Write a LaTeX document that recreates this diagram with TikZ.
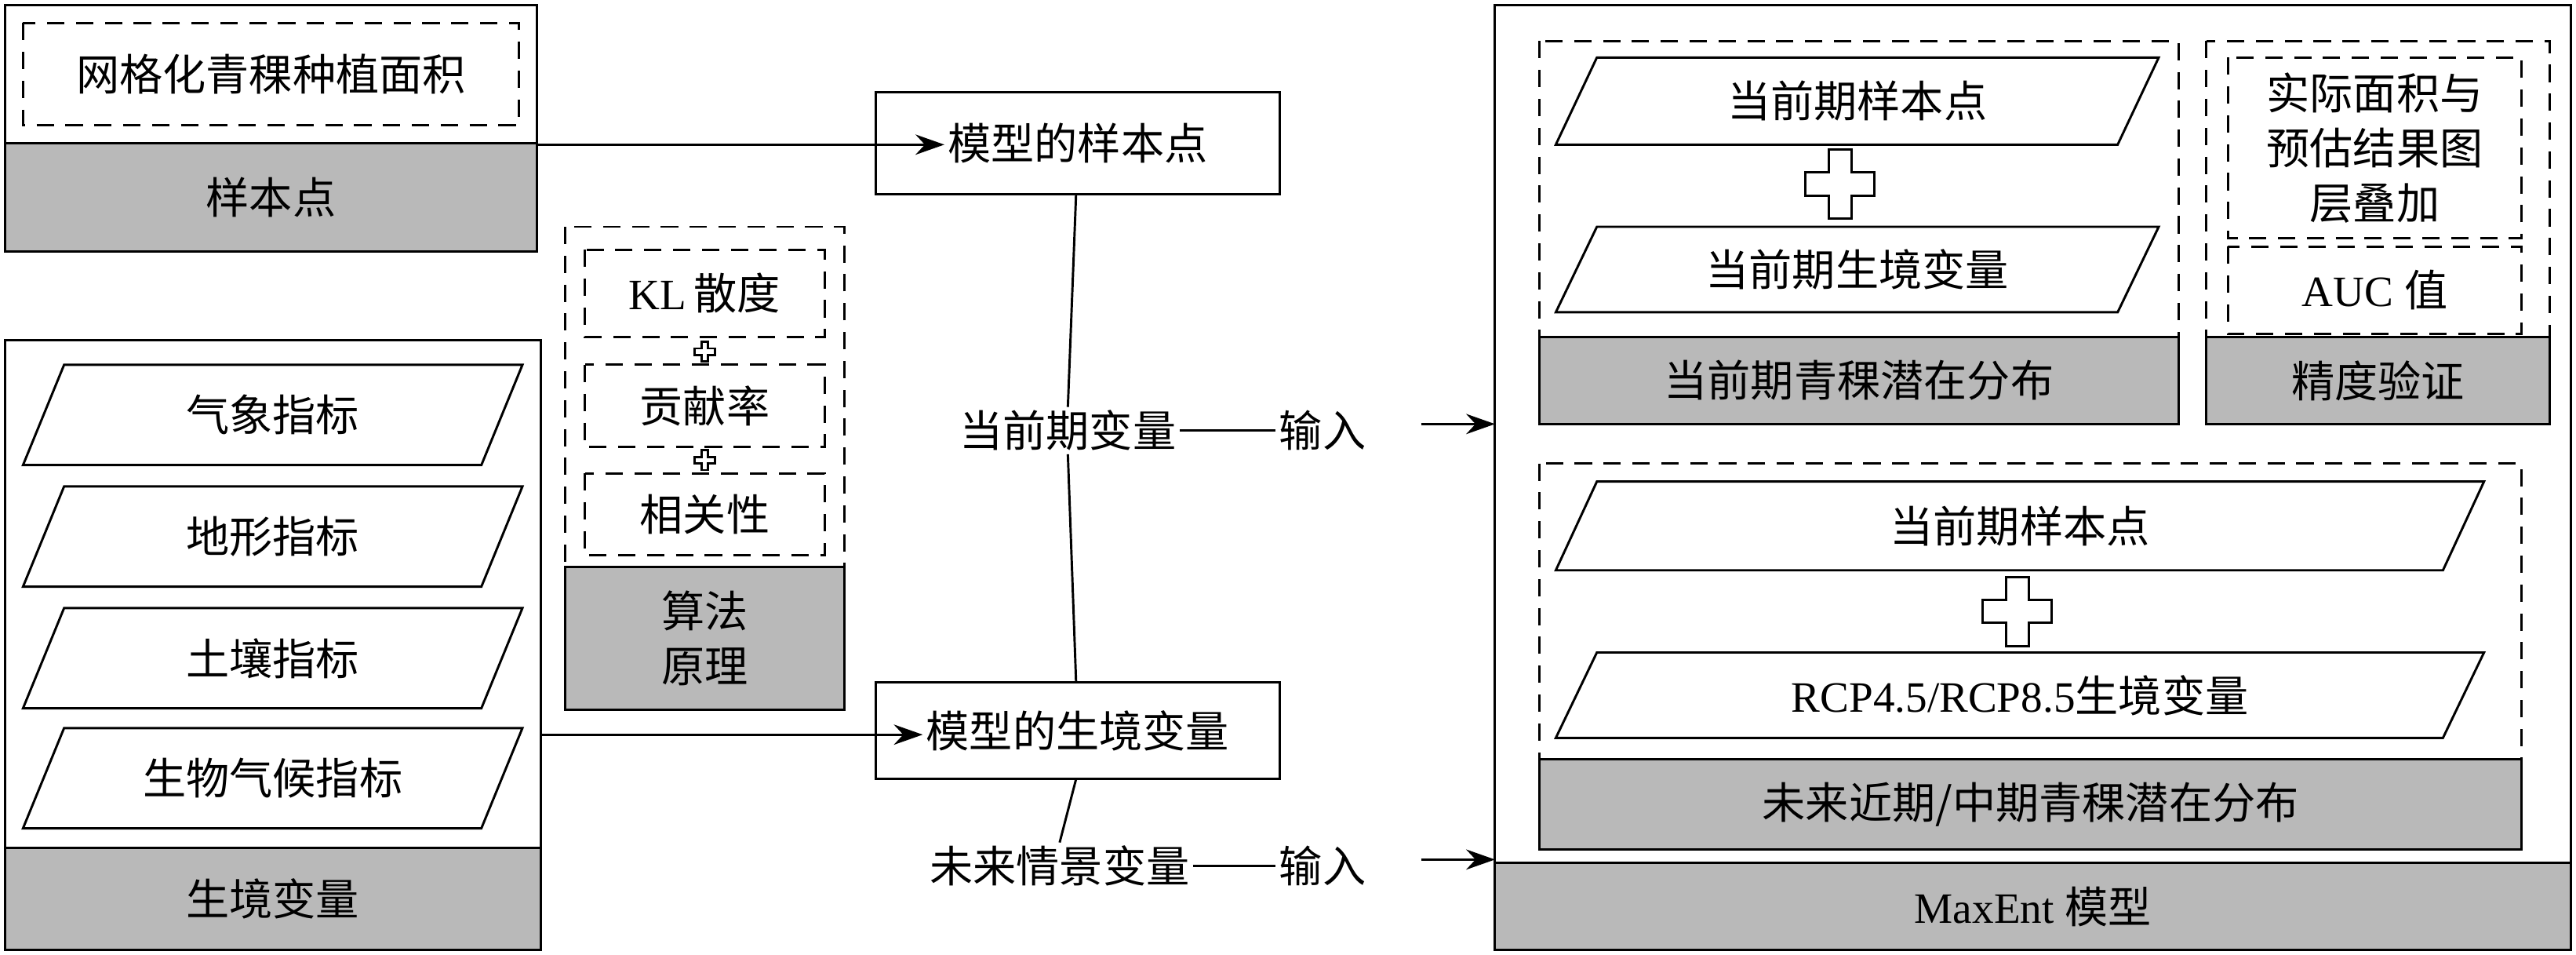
\documentclass[tikz,border=0pt]{standalone}
\usepackage{fontspec}
\setmainfont{Liberation Serif}
\newfontfamily\cjk{Noto Sans CJK SC}
\usetikzlibrary{calc,arrows.meta}

\tikzset{
  frame/.style={draw, thick},
  dframe/.style={draw, thick, dashed, dash pattern=on 6pt off 4pt},
  band/.style={draw, thick, fill=gray!55},
  lbl/.style={font=\fontsize{15}{19}\selectfont\cjk, align=center, inner sep=1pt},
  arr/.style={thick, -{Stealth[length=10pt,width=7pt]}}
}
% box with centred text
\newcommand{\rbox}[7]{%
  \draw[#6] (#2,#3) rectangle (#4,#5);
  \node[lbl] (#1) at ($(#2,#3)!0.5!(#4,#5)$) {#7};}
% slanted box
\newcommand{\pbox}[6]{%
  \draw[thick] (#2+25,#3) -- (#4,#3) -- (#4-25,#5) -- (#2,#5) -- cycle;
  \node[lbl] (#1) at ($(#2,#3)!0.5!(#4,#5)$) {#6};}
% outlined plus
\newcommand{\plusmark}[3]{%
  \draw[thick, fill=white] (#1-#3/3,#2-#3) -- (#1+#3/3,#2-#3) -- (#1+#3/3,#2-#3/3)
    -- (#1+#3,#2-#3/3) -- (#1+#3,#2+#3/3) -- (#1+#3/3,#2+#3/3) -- (#1+#3/3,#2+#3)
    -- (#1-#3/3,#2+#3) -- (#1-#3/3,#2+#3/3) -- (#1-#3,#2+#3/3) -- (#1-#3,#2-#3/3)
    -- (#1-#3/3,#2-#3/3) -- cycle;}

\begin{document}
\begin{tikzpicture}[x=0.02cm, y=-0.02cm]
\useasboundingbox (0,0) rectangle (1568,581);

% left: sample points
\draw[frame] (3,3) rectangle (327,153);
\rbox{grid}{14}{14}{316}{76}{dframe}{网格化青稞种植面积}
\rbox{ybd}{3}{87}{327}{153}{band}{样本点}
\coordinate (ybdout) at (327,88);

% left: habitat variables
\draw[frame] (3,207) rectangle (329,578);
\pbox{qx}{14}{222}{318}{283}{气象指标}
\pbox{dx}{14}{296}{318}{357}{地形指标}
\pbox{tr}{14}{370}{318}{431}{土壤指标}
\pbox{sw}{14}{443}{318}{504}{生物气候指标}
\rbox{sjbl}{3}{516}{329}{578}{band}{生境变量}
\coordinate (sjout) at (329,447);

% algorithm
\draw[dframe] (344,138) rectangle (514,345);
\rbox{kl}{356}{152}{502}{205}{dframe}{\rmfamily KL\,\cjk 散度}
\plusmark{429}{214}{6}
\rbox{gx}{356}{222}{502}{272}{dframe}{贡献率}
\plusmark{429}{280}{6}
\rbox{xg}{356}{288}{502}{338}{dframe}{相关性}
\rbox{sf}{344}{345}{514}{432}{band}{算法\\原理}

% model inputs
\rbox{myb}{533}{56}{779}{118}{frame}{模型的样本点}
\rbox{msj}{533}{415}{779}{474}{frame}{模型的生境变量}
\draw[arr] (ybdout) -- (myb.west |- ybdout);
\draw[arr] (sjout) -- (msj.west |- sjout);
\node[lbl, fill=white] (dq) at (650,262) {当前期变量};
\node[lbl] (dqin) at (805,262) {输入};
\node[lbl] (wl) at (645,527) {未来情景变量};
\node[lbl] (wlin) at (805,527) {输入};
\draw[thick] (655,118) -- (dq.north);
\draw[thick] (dq.south) -- (655,415);
\draw[thick] (655,474) -- (wl.north);
\draw[thick] (dq.east) -- (dqin.west);
\draw[thick] (wl.east) -- (wlin.west);
\coordinate (in1) at (910,258);
\coordinate (in2) at (910,523);
\draw[arr] (865,258) -- (in1);
\draw[arr] (865,523) -- (in2);

% MaxEnt
\draw[frame] (910,3) rectangle (1565,578);
\rbox{mx}{910}{525}{1565}{578}{band}{\rmfamily MaxEnt \cjk 模型}

\draw[dframe] (937,25) rectangle (1326,258);
\pbox{p1}{947}{35}{1314}{88}{当前期样本点}
\plusmark{1120}{112}{21}
\pbox{p2}{947}{138}{1314}{190}{当前期生境变量}
\rbox{dqfb}{937}{205}{1326}{258}{band}{当前期青稞潜在分布}

\draw[dframe] (1343,25) rectangle (1552,258);
\rbox{sj}{1356}{35}{1535}{145}{dframe}{实际面积与\\预估结果图\\层叠加}
\rbox{auc}{1356}{150}{1535}{203}{dframe}{\rmfamily AUC \cjk 值}
\rbox{jd}{1343}{205}{1552}{258}{band}{精度验证}

\draw[dframe] (937,282) rectangle (1535,517);
\pbox{p3}{947}{293}{1512}{347}{当前期样本点}
\plusmark{1228}{372}{21}
\pbox{p4}{947}{397}{1512}{449}{\rmfamily RCP4.5/RCP8.5\cjk 生境变量}
\rbox{wlfb}{937}{462}{1535}{517}{band}{未来近期/中期青稞潜在分布}
\end{tikzpicture}
\end{document}
